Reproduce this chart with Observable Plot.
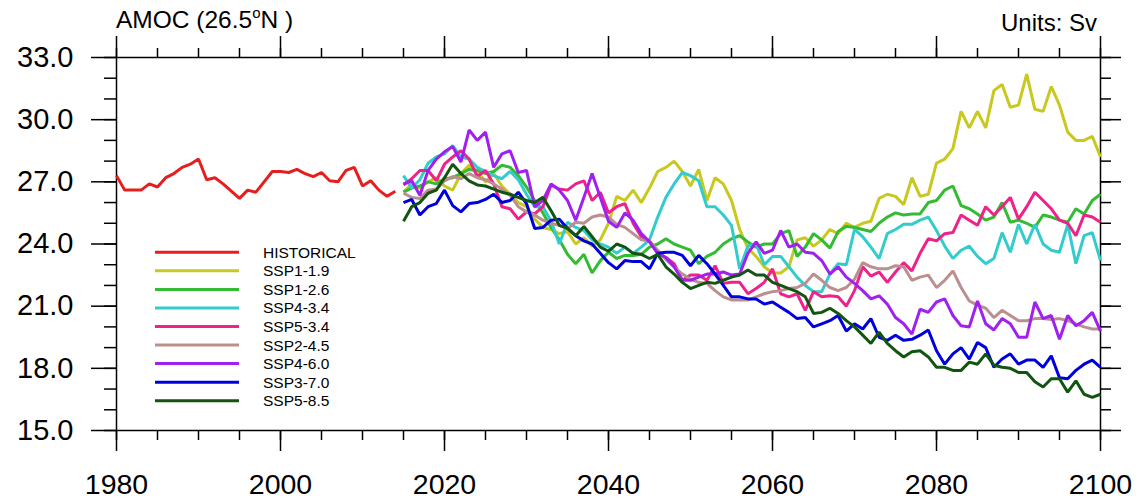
<!DOCTYPE html>
<html>
<head>
<meta charset="utf-8">
<script src="https://cdn.jsdelivr.net/npm/d3@7"></script>
<script src="https://cdn.jsdelivr.net/npm/@observablehq/plot@0.6"></script>
<style>
  body { margin: 0; background: #fff; }
  #wrap { position: relative; width: 1139px; height: 500px; }
  #overlay { position: absolute; left: 0; top: 0; pointer-events: none; }
</style>
</head>
<body>
<div id="wrap"></div>
<script>
// ---------------- data ----------------
const histStart = 1980;
const historical = [
  27.3, 26.6, 26.6, 26.6, 26.9, 26.75, 27.2, 27.4, 27.7, 27.85,
  28.1, 27.1, 27.2, 26.9, 26.55, 26.2, 26.6, 26.5, 27.0, 27.5,
  27.5, 27.45, 27.6, 27.4, 27.25, 27.45, 27.05, 27.0, 27.55, 27.7,
  26.8, 27.05, 26.6, 26.3, 26.55
];

const sspStart = 2015;
const ssp119 = [
  26.5, 26.9, 26.7, 27.0, 27.2, 26.8, 26.6, 27.4, 27.8, 27.5,
  27.0, 27.4, 26.8, 26.4, 26.0, 25.8, 25.2, 24.8, 24.7, 24.5,
  24.6, 24.0, 24.3, 23.9, 24.2, 25.0, 26.3, 26.1, 26.6, 26.0,
  26.7, 27.5, 27.7, 28.0, 27.5, 26.8, 27.6, 26.1, 27.2, 26.9,
  26.1, 24.7, 23.8, 23.4, 22.9, 22.6, 22.6, 22.9, 24.2, 24.3,
  23.9, 24.2, 24.7, 24.5, 25.0, 24.8, 25.0, 25.1, 26.2, 26.4,
  26.3, 25.9, 27.2, 26.3, 26.4, 27.9, 28.1, 28.6, 30.4, 29.6,
  30.4, 29.6, 31.4, 31.7, 30.6, 30.7, 32.2, 30.5, 30.4, 31.6,
  30.7, 29.4, 29.0, 29.0, 29.2, 28.2
];
const ssp126 = [
  26.5, 26.7, 26.8, 27.0, 26.9, 27.15, 27.2, 27.4, 27.6, 27.55,
  27.4, 27.5, 27.8, 27.7, 27.3, 26.75, 26.1, 25.5, 24.8, 24.2,
  23.5, 23.05, 23.5, 22.6, 23.2, 23.6, 23.3, 23.45, 23.45, 23.5,
  23.85, 24.0, 24.25, 24.0, 23.85, 23.7, 23.05, 23.4, 23.6, 24.0,
  24.25, 24.4, 24.1, 23.85, 24.0, 24.0, 24.5, 24.65, 23.4, 23.85,
  24.5, 24.2, 23.8, 24.6, 24.85, 24.8, 24.7, 24.6, 25.0, 25.3,
  25.5, 25.4, 25.45, 25.45, 26.0, 26.1, 26.6, 26.8, 25.85, 25.7,
  25.45, 25.15, 25.3, 26.0, 25.05, 25.15, 25.0, 24.8, 25.4, 25.3,
  25.15, 25.05, 25.7, 25.45, 26.1, 26.4
];
const ssp434 = [
  27.3, 26.7, 27.1, 27.9, 28.2, 28.35, 28.75, 28.2, 28.1, 27.7,
  27.5, 27.3, 27.15, 27.5, 27.1, 26.4, 25.8, 25.8, 25.1, 24.0,
  25.05, 24.8, 24.65, 24.2, 24.0, 23.85, 23.55, 23.85, 23.55, 23.85,
  24.2, 25.3, 26.25, 26.9, 27.45, 27.3, 27.05, 25.8, 25.8, 25.4,
  24.9, 22.8, 23.9, 24.0, 23.0, 23.4, 23.4, 22.9, 22.4, 22.0,
  21.7, 21.7, 22.55, 23.05, 23.0, 24.7, 24.35, 23.85, 23.3, 24.5,
  24.7, 24.95, 24.95, 25.15, 25.3, 24.65, 23.9, 23.3, 23.7, 23.9,
  23.4, 23.05, 23.3, 24.55, 23.6, 24.95, 24.0, 24.95, 24.0, 23.7,
  23.6, 24.95, 23.05, 24.4, 24.55, 23.2
];
const ssp534 = [
  26.85, 27.15, 27.55, 27.55, 27.05, 27.85, 28.2, 28.5, 28.1, 27.25,
  27.55, 26.9, 25.8, 25.7, 25.2, 25.55, 25.45, 25.8, 26.85, 26.65,
  26.6, 26.9, 27.05, 26.1, 26.5, 25.5, 25.8, 25.95, 25.0, 24.35,
  24.15, 23.55, 23.35, 23.05, 22.25, 22.5, 22.5, 22.25, 22.95, 22.1,
  22.15, 22.15, 21.6, 21.85, 22.15, 22.8, 21.6, 21.45, 21.6, 20.8,
  21.7, 21.45, 21.5, 21.45, 21.0, 21.75, 22.9, 22.45, 22.65, 22.15,
  22.65, 23.1, 22.7, 23.55, 24.25, 24.15, 24.5, 24.55, 25.4, 25.15,
  24.9, 25.8, 25.4, 25.8, 26.25, 25.2, 25.8, 26.5, 26.1, 25.7,
  25.15, 25.0, 24.4, 25.4, 25.3, 25.05
];
const ssp245 = [
  26.45, 26.25, 26.2, 26.6, 26.65, 27.05, 27.25, 27.15, 27.4, 27.2,
  27.1, 26.9, 26.65, 26.35, 25.8, 25.55, 25.4, 25.15, 25.0, 24.9,
  24.75, 25.05, 25.0, 25.3, 25.4, 25.3, 24.95, 24.8, 24.5, 24.2,
  24.15, 23.7, 23.25, 22.9, 22.55, 22.3, 22.15, 22.1, 21.75, 21.45,
  21.3, 21.3, 21.3, 21.45, 21.6, 21.7, 21.75, 21.85, 21.9, 22.1,
  22.55, 22.25, 21.9, 21.75, 21.9, 22.3, 23.1, 22.9, 22.8, 22.8,
  22.95, 22.9, 22.25, 22.4, 22.5, 21.9, 22.25, 22.7, 21.9, 21.25,
  21.05, 20.9, 20.45, 20.8, 20.55, 20.3, 20.3, 20.4, 20.4, 20.35,
  20.4, 20.3, 20.15, 20.0, 19.9, 19.9
];
const ssp460 = [
  26.9, 27.05, 26.35, 27.55, 28.1, 28.45, 28.7, 27.95, 29.5, 29.0,
  29.4, 27.7, 28.35, 28.5, 27.45, 27.55, 25.8, 26.1, 26.9, 26.6,
  26.1, 25.15, 26.25, 27.4, 26.25, 25.1, 24.8, 25.5, 25.15, 24.5,
  24.1, 23.55, 23.35, 22.9, 22.25, 22.25, 22.4, 22.55, 22.55, 22.65,
  22.5, 22.55, 23.55, 24.1, 23.55, 23.7, 24.65, 23.85, 24.0, 23.6,
  23.55, 23.2, 22.55, 22.9, 22.4, 22.1, 21.75, 21.35, 21.5, 21.1,
  20.45, 20.15, 19.65, 20.85, 20.7, 21.2, 21.35, 20.55, 20.05, 20.0,
  21.25, 20.15, 19.85, 20.4, 20.15, 19.5, 19.5, 21.2, 20.4, 20.55,
  19.4, 20.55, 20.05, 20.3, 20.7, 19.8
];
const ssp370 = [
  26.0, 26.15, 25.4, 25.8, 25.95, 26.6, 25.85, 25.55, 25.95, 26.0,
  26.15, 26.4, 26.0, 26.1, 26.5, 25.95, 24.75, 24.8, 25.15, 25.2,
  24.75, 24.4, 24.15, 24.0, 23.55, 23.1, 22.8, 23.2, 23.15, 23.15,
  22.8, 23.55, 23.6, 23.6, 23.45, 22.95, 23.45, 23.05, 22.55, 22.0,
  21.45, 21.45, 21.35, 21.35, 21.1, 21.2, 20.95, 20.7, 20.4, 20.45,
  20.0, 20.15, 20.3, 20.55, 19.8, 20.15, 19.9, 20.4, 19.5, 19.35,
  19.6, 19.35, 19.4, 19.6, 19.85, 18.85, 18.2, 18.7, 19.0, 18.45,
  19.25, 19.0, 18.05, 18.45, 18.7, 18.2, 18.4, 18.4, 18.05, 18.6,
  17.55, 17.5, 17.9, 18.2, 18.4, 18.05
];
const ssp585 = [
  25.1, 25.8, 26.0, 26.45, 26.6, 27.2, 27.85, 27.4, 27.05, 26.85,
  26.8, 26.65, 26.5, 26.4, 26.25, 26.1, 26.0, 26.25, 25.6, 24.9,
  24.75, 24.4, 24.85, 24.35, 23.85, 23.65, 24.0, 23.85, 23.55, 23.5,
  23.3, 23.5, 22.9, 22.55, 22.15, 21.85, 22.0, 22.15, 22.1, 22.25,
  22.4, 22.5, 22.75, 22.5, 22.5, 22.15, 22.0, 21.85, 21.7, 21.45,
  20.65, 20.7, 20.9, 20.65, 20.3, 20.0, 19.6, 19.2, 19.75, 19.2,
  18.85, 18.55, 18.8, 18.85, 18.55, 18.05, 18.05, 17.9, 17.9, 18.3,
  18.2, 18.7, 18.15, 18.05, 18.0, 17.8, 17.8, 17.35, 17.1, 17.5,
  17.5, 16.85, 17.4, 16.75, 16.6, 16.75
];

const scenarioNames = ["HISTORICAL", "SSP1-1.9", "SSP1-2.6", "SSP4-3.4", "SSP5-3.4",
                       "SSP2-4.5", "SSP4-6.0", "SSP3-7.0", "SSP5-8.5"];
const scenarioColors = ["#e61e1e", "#c8c81e", "#33bb33", "#33cccc", "#ee2288",
                        "#bc8f8f", "#a020f0", "#0000dd", "#115511"];
const yTicks = [15, 18, 21, 24, 27, 30, 33];
const xTicks = [1980, 2000, 2020, 2040, 2060, 2080, 2100];
const titleText = "AMOC (26.5";
const unitsText = "Units: Sv";

// ---------------- table ----------------
const rows = [];
historical.forEach((v, i) => rows.push({year: histStart + i, value: v, scenario: "HISTORICAL"}));
const sspSeries = [ssp119, ssp126, ssp434, ssp534, ssp245, ssp460, ssp370, ssp585];
sspSeries.forEach((arr, k) => arr.forEach((v, i) =>
  rows.push({year: sspStart + i, value: v, scenario: scenarioNames[k + 1]})));

const minorX = d3.range(1980, 2101, 5);
const minorY = d3.range(15, 33.001, 1);
const font = "'Liberation Sans', Arial, Helvetica, sans-serif";
const blank = () => "";

const chart = Plot.plot({
  width: 1139,
  height: 500,
  marginLeft: 116,
  marginRight: 39,
  marginTop: 57,
  marginBottom: 70,
  style: {fontFamily: font, background: "white", color: "black"},
  x: {domain: [1980, 2100], axis: null, label: null},
  y: {domain: [15, 33], axis: null, label: null},
  color: {domain: scenarioNames, range: scenarioColors},
  marks: [
    // bottom
    Plot.axisX({anchor: "bottom", ticks: minorX, tickSize: 10, tickFormat: blank, label: null, strokeWidth: 1.5}),
    Plot.axisX({anchor: "bottom", ticks: xTicks, tickSize: 21, tickPadding: 22, tickFormat: d => String(d),
                fontSize: 28.5, label: null, strokeWidth: 1.5}),
    // top
    Plot.axisX({anchor: "top", ticks: minorX, tickSize: 10, tickFormat: blank, label: null, strokeWidth: 1.5}),
    Plot.axisX({anchor: "top", ticks: xTicks, tickSize: 22, tickFormat: blank, label: null, strokeWidth: 1.5}),
    // left
    Plot.axisY({anchor: "left", ticks: minorY, tickSize: 12, tickFormat: blank, label: null, strokeWidth: 1.5}),
    Plot.axisY({anchor: "left", ticks: yTicks, tickSize: 25, tickPadding: 18, tickFormat: d => d.toFixed(1),
                fontSize: 29, label: null, strokeWidth: 1.5}),
    // right
    Plot.axisY({anchor: "right", ticks: minorY, tickSize: 10, tickFormat: blank, label: null, strokeWidth: 1.5}),
    Plot.axisY({anchor: "right", ticks: yTicks, tickSize: 20, tickFormat: blank, label: null, strokeWidth: 1.5}),
    Plot.frame({stroke: "black", strokeWidth: 1.5}),
    Plot.lineY(rows, {x: "year", y: "value", z: "scenario", stroke: "scenario", strokeWidth: 3,
                      strokeLinejoin: "miter", strokeLinecap: "butt"})
  ]
});

const wrap = document.getElementById("wrap");
wrap.appendChild(chart);

// ---------------- overlay: title, units, legend ----------------
const ov = d3.select(wrap).append("svg")
  .attr("id", "overlay").attr("width", 1139).attr("height", 500)
  .style("font-family", font);

const t = ov.append("text").attr("x", 116).attr("y", 28).attr("font-size", 24.5).attr("fill", "black");
t.append("tspan").text(titleText);
t.append("tspan").attr("font-size", 15).attr("dy", -10).text("o");
t.append("tspan").attr("dy", 10).text("N )");

ov.append("text").attr("x", 1097).attr("y", 31).attr("text-anchor", "end")
  .attr("font-size", 24).attr("fill", "black").text(unitsText);

const lg = ov.append("g");
scenarioNames.forEach((name, i) => {
  const yy = 252.3 + i * 18.55;
  lg.append("line").attr("x1", 155).attr("x2", 239).attr("y1", yy).attr("y2", yy)
    .attr("stroke", scenarioColors[i]).attr("stroke-width", 3);
  lg.append("text").attr("x", 263).attr("y", yy + 5.5).attr("font-size", 15.5)
    .attr("fill", "black").text(name);
});
</script>
</body>
</html>
